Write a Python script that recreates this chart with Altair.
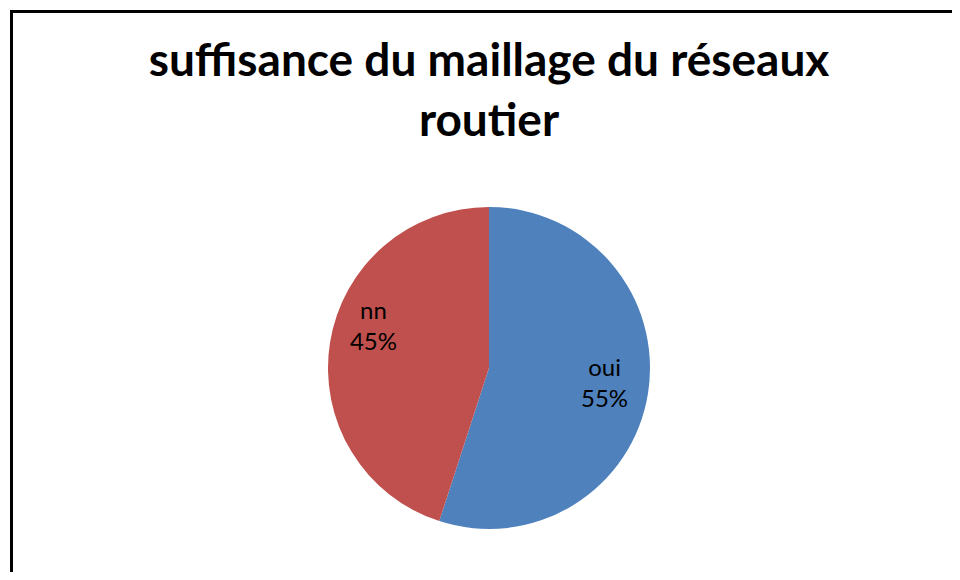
import altair as alt
import pandas as pd

categories = ["oui", "nn"]
values = [55, 45]
pct_labels = ["55%", "45%"]
order = [1, 2]
colors = ["#4F81BD", "#C0504D"]
title_lines = ["suffisance du maillage du réseaux", "routier"]

W, H = 944, 564
CX, CY, R = 481, 360, 161

df = pd.DataFrame({
    "categorie": categories,
    "valeur": values,
    "pct": pct_labels,
    "ordre": order,
})
df["label"] = df["categorie"] + "\n" + df["pct"]

base = alt.Chart(df)

theta_scale = alt.Scale(domain=[0, 100])

pie = base.mark_arc(radius=R, stroke=None).encode(
    theta=alt.Theta("valeur:Q", stack=True, scale=theta_scale),
    color=alt.Color("categorie:N", scale=alt.Scale(domain=categories, range=colors), legend=None),
    order=alt.Order("ordre:Q"),
    x=alt.value(CX),
    y=alt.value(CY),
)

label_base = base.transform_window(
    cum="sum(valeur)", sort=[alt.SortField("ordre")]
).transform_calculate(
    mid="datum.cum - datum.valeur / 2"
)

def label_layer(cat, dy):
    return label_base.transform_filter(alt.datum.categorie == cat).mark_text(
        font="Lato", fontSize=24, lineBreak="\n", lineHeight=31,
        baseline="alphabetic", align="center", color="#000000", dy=dy,
    ).encode(
        theta=alt.Theta("mid:Q", stack=None, scale=theta_scale),
        radius=alt.value(117),
        text="label:N",
        x=alt.value(CX),
        y=alt.value(CY),
    )

lab_oui = label_layer("oui", -10)
lab_nn = label_layer("nn", -31)

title_df = pd.DataFrame({"t": ["\n".join(title_lines)]})
title = alt.Chart(title_df).mark_text(
    font="Lato", fontWeight="bold", fontSize=46, lineBreak="\n", lineHeight=60,
    baseline="alphabetic", align="center", color="#000000",
).encode(text="t:N", x=alt.value(CX), y=alt.value(68))

border_df = pd.DataFrame({"k": [0]})
top_rule = alt.Chart(border_df).mark_rule(color="#000000", strokeWidth=3).encode(
    x=alt.value(2), x2=alt.value(W + 10), y=alt.value(3.5)
)
left_rule = alt.Chart(border_df).mark_rule(color="#000000", strokeWidth=3).encode(
    x=alt.value(3.5), y=alt.value(2), y2=alt.value(H + 10)
)

chart = alt.layer(pie, lab_oui, lab_nn, title, top_rule, left_rule).properties(
    width=W, height=H, padding=0,
    autosize=alt.AutoSizeParams(type="fit", contains="padding"),
    background="#ffffff",
).configure_view(stroke=None)

chart.save("out.html", embed_options={"renderer": "svg", "actions": False})
